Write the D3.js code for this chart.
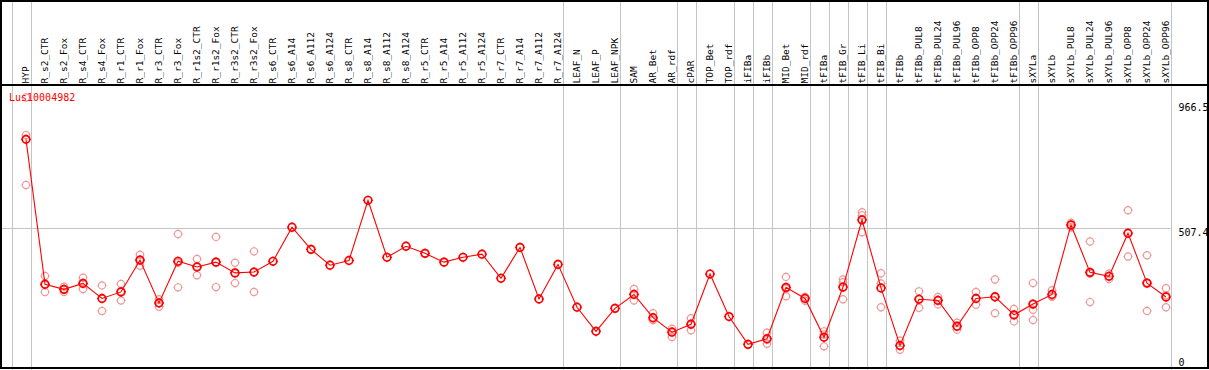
<!DOCTYPE html>
<html>
<head>
<meta charset="utf-8">
<script src="https://cdn.jsdelivr.net/npm/d3@7"></script>
<style>
  html, body { margin: 0; padding: 0; background: #fff; }
  svg { display: block; }
  text { font-family: 'DejaVu Sans Mono', 'Liberation Mono', monospace; }
</style>
</head>
<body>
<div id="chart"></div>
<script>
const title = 'Lus10004982';

const categories = [
  'HYP', 'R_s2_CTR', 'R_s2_Fox', 'R_s4_CTR', 'R_s4_Fox', 'R_r1_CTR', 'R_r1_Fox',
  'R_r3_CTR', 'R_r3_Fox', 'R_r1s2_CTR', 'R_r1s2_Fox', 'R_r3s2_CTR', 'R_r3s2_Fox',
  'R_s6_CTR', 'R_s6_A14', 'R_s6_A112', 'R_s6_A124', 'R_s8_CTR', 'R_s8_A14',
  'R_s8_A112', 'R_s8_A124', 'R_r5_CTR', 'R_r5_A14', 'R_r5_A112', 'R_r5_A124',
  'R_r7_CTR', 'R_r7_A14', 'R_r7_A112', 'R_r7_A124', 'LEAF_N', 'LEAF_P', 'LEAF_NPK',
  'SAM', 'AR_Bet', 'AR_rdf', 'cPAR', 'TOP_Bet', 'TOP_rdf', 'iFIBa', 'iFIBb',
  'MID_Bet', 'MID_rdf', 'tFIBa', 'tFIB_Gr', 'tFIB_Li', 'tFIB_Bi', 'tFIBb',
  'tFIBb_PUL8', 'tFIBb_PUL24', 'tFIBb_PUL96', 'tFIBb_OPP8', 'tFIBb_OPP24', 'tFIBb_OPP96',
  'sXYLa', 'sXYLb', 'sXYLb_PUL8', 'sXYLb_PUL24', 'sXYLb_PUL96', 'sXYLb_OPP8',
  'sXYLb_OPP24', 'sXYLb_OPP96',
];

// mean expression per sample
const means = [
  819, 308, 290, 311, 258, 281, 393,
  242, 389, 369, 386, 348, 351,
  389, 509, 431, 375, 392, 604,
  403, 442, 417, 386, 403, 414,
  329, 438, 256, 378, 227, 142, 223,
  272, 190, 139, 167, 344, 194, 96, 116,
  297, 258, 121, 298, 535, 295, 92,
  255, 251, 160, 258, 264, 200,
  238, 272, 517, 350, 336, 488,
  312, 263,
];

// individual replicates (empty = hidden behind the mean)
const replicates = [
  [966.5, 834, 658], [337, 305, 281], [299, 290, 281], [331, 311, 291], [304, 257, 214],
  [309, 282, 251], [412, 395, 373], [255, 242, 229], [485, 384, 297], [397, 370, 340],
  [475, 386, 298], [384, 347, 312], [424, 349, 281],
  [], [], [], [], [], [], [], [], [], [], [], [], [], [], [], [], [], [], [],
  [291, 274, 251], [206, 183, 182], [151, 142, 122], [188, 167, 146], [], [], [],
  [137, 112, 98], [334, 292, 266], [262, 263, 250], [142, 131, 89], [325, 315, 255],
  [562, 551, 491], [347, 311, 227], [109, 91, 77], [283, 256, 225], [263, 253, 237],
  [172, 158, 148], [281, 258, 236], [325, 262, 206], [221, 201, 177],
  [312, 218, 182], [287, 267, 264], [525, 517, 509], [459, 345, 245], [345, 336, 326],
  [569, 488, 406], [410, 313, 214], [294, 269, 227],
];

const yTicks = [966.5, 507.4, 0];
const gridValues = [507.4];

// group separators are drawn after these samples (plus one before the first)
const separatorsAfter = [
  'HYP', 'R_r7_A124', 'LEAF_NPK', 'AR_rdf', 'cPAR', 'TOP_rdf', 'iFIBa', 'iFIBb',
  'MID_rdf', 'tFIBa', 'tFIB_Gr', 'tFIB_Li', 'tFIB_Bi', 'tFIBb_OPP96', 'sXYLa', 'sXYLb_OPP96',
];

const width = 1209;
const height = 370;
const headerBottom = 85;
const plotRight = 1170.5;
const red = '#ff0000';
const pink = '#ef9898';
const grey = '#c4c4c4';

const svg = d3.select('#chart')
  .append('svg')
  .attr('width', width)
  .attr('height', height);

svg.append('rect')
  .attr('width', width)
  .attr('height', height)
  .attr('fill', '#fff');

const x = d3.scalePoint()
  .domain(categories)
  .range([26, 1166]);

const y = d3.scaleLinear()
  .domain([0, 966.5])
  .range([371.6, 97.5]);

const step = x.step();

// vertical separators
const sepX = [x(categories[0]) - step + 4.5]
  .concat(separatorsAfter.map((c) => x(c) + 4.5));

svg.append('g')
  .selectAll('line')
  .data(sepX)
  .join('line')
  .attr('x1', (d) => Math.round(d) + 0.5)
  .attr('x2', (d) => Math.round(d) + 0.5)
  .attr('y1', 0)
  .attr('y2', height)
  .attr('stroke', grey)
  .attr('stroke-width', 1);

// horizontal grid line
svg.append('g')
  .selectAll('line')
  .data(gridValues)
  .join('line')
  .attr('x1', 0)
  .attr('x2', plotRight)
  .attr('y1', (d) => Math.round(y(d)) + 0.5)
  .attr('y2', (d) => Math.round(y(d)) + 0.5)
  .attr('stroke', grey)
  .attr('stroke-width', 1);

// header separator and frame
svg.append('line')
  .attr('x1', 0)
  .attr('x2', width)
  .attr('y1', headerBottom)
  .attr('y2', headerBottom)
  .attr('stroke', '#000')
  .attr('stroke-width', 2);

svg.append('rect')
  .attr('x', 1)
  .attr('y', 1)
  .attr('width', width - 2)
  .attr('height', height - 3)
  .attr('fill', 'none')
  .attr('stroke', '#000')
  .attr('stroke-width', 2);

// rotated sample labels (read bottom to top)
svg.append('g')
  .selectAll('text')
  .data(categories)
  .join('text')
  .attr('transform', (d) => `translate(${x(d) - 0.5},${headerBottom - 1.5}) rotate(-90)`)
  .attr('dy', '0.36em')
  .attr('text-anchor', 'start')
  .attr('font-size', '9.5px')
  .attr('fill', '#000')
  .text((d) => d);

// value labels on the right
svg.append('g')
  .selectAll('text')
  .data(yTicks)
  .join('text')
  .attr('x', 1178.5)
  .attr('y', (d) => Math.max(110.5, Math.min(365.5, y(d) + 8)))
  .attr('font-size', '10px')
  .attr('fill', '#000')
  .text((d) => d);

// marker = circle plus small ticks at N/S/E/W
function markerPath(cx, cy, r, t) {
  const o = r + t;
  return `M${cx},${cy - o}V${cy - r}M${cx},${cy + r}V${cy + o}`
    + `M${cx - o},${cy}H${cx - r}M${cx + r},${cy}H${cx + o}`;
}

const repPoints = [];
replicates.forEach((reps, i) => {
  reps.forEach((v) => repPoints.push({ c: categories[i], v }));
});

const reps = svg.append('g');
reps.selectAll('circle')
  .data(repPoints)
  .join('circle')
  .attr('cx', (d) => x(d.c))
  .attr('cy', (d) => y(d.v))
  .attr('r', 3.6)
  .attr('fill', 'none')
  .attr('stroke', pink)
  .attr('stroke-width', 1.2);
reps.selectAll('path')
  .data(repPoints)
  .join('path')
  .attr('d', (d) => markerPath(x(d.c), y(d.v), 3.6, 1))
  .attr('stroke', pink)
  .attr('stroke-width', 1);

const line = d3.line()
  .x((d, i) => x(categories[i]))
  .y((d) => y(d));

svg.append('path')
  .datum(means)
  .attr('d', line)
  .attr('fill', 'none')
  .attr('stroke', red)
  .attr('stroke-width', 1.1);

const mg = svg.append('g');
mg.selectAll('circle')
  .data(means)
  .join('circle')
  .attr('cx', (d, i) => x(categories[i]))
  .attr('cy', (d) => y(d))
  .attr('r', 3.8)
  .attr('fill', 'none')
  .attr('stroke', red)
  .attr('stroke-width', 1.7);
mg.selectAll('path')
  .data(means)
  .join('path')
  .attr('d', (d, i) => markerPath(x(categories[i]), y(d), 3.8, 1.2))
  .attr('stroke', red)
  .attr('stroke-width', 1);

// title
svg.append('text')
  .attr('x', 9)
  .attr('y', 100.5)
  .attr('font-size', '10px')
  .attr('fill', red)
  .text(title);
</script>
</body>
</html>
